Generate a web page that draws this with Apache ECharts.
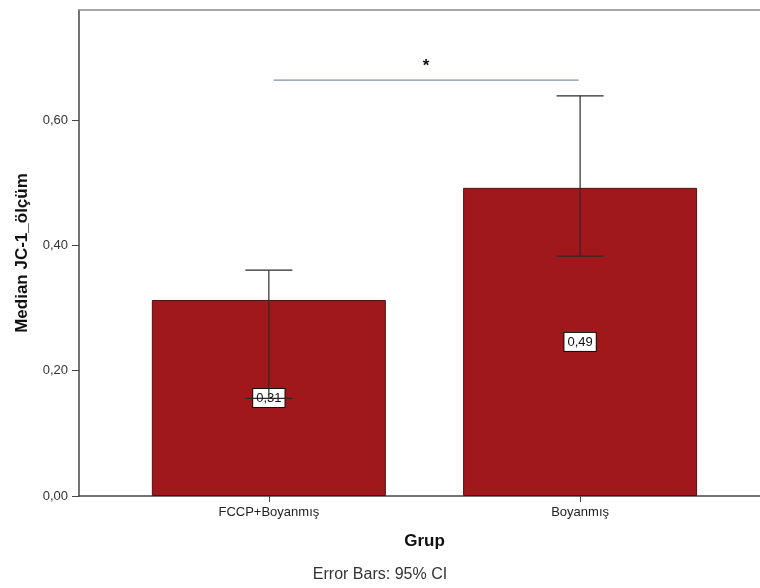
<!DOCTYPE html>
<html>
<head>
<meta charset="utf-8">
<script src="https://cdn.jsdelivr.net/npm/echarts@6/dist/echarts.min.js"></script>
<style>
  html, body { margin: 0; padding: 0; background: #fff; }
  #chart { width: 760px; height: 588px; }
</style>
</head>
<body>
<div id="chart"></div>
<script>
// Groups and their median JC-1 values with 95% confidence limits
const categories = ['FCCP+Boyanmış', 'Boyanmış'];
const medians = [0.313, 0.492];
const ciLower = [0.156, 0.383];
const ciUpper = [0.3605, 0.639];
const yTicks = [0, 0.2, 0.4, 0.6];
// significance bracket between the two groups
const bracketLevel = 0.664;
const bracketSpan = [0.015, 0.995];
const bracketMark = '*';

const fontFamily = '"Liberation Sans", Arial, sans-serif';
const fmt = v => v.toFixed(2).replace('.', ',');

const chart = echarts.init(document.getElementById('chart'), null, { renderer: 'canvas' });

const barData = medians.map((v, i) => [i, v]);
const errData = medians.map((v, i) => [i, ciLower[i], ciUpper[i]]);

// the plot frame runs off the right edge, so the x range stops short of the
// symmetric extent and only the top, left and bottom edges are drawn
const xMin = -0.61;
const xMax = 1.578;

chart.setOption({
  animation: false,
  backgroundColor: '#ffffff',
  textStyle: { fontFamily },
  grid: {
    left: 79, top: 10, right: 0, bottom: 92,
    show: false,
    containLabel: false
  },
  xAxis: [
    {
      type: 'value',
      min: xMin, max: xMax,
      name: 'Grup',
      nameLocation: 'middle',
      nameGap: 37,
      nameTextStyle: { fontSize: 17, fontWeight: 'bold', color: '#111', fontFamily, padding: [0, 0, 0, 10] },
      axisLine: { show: true, onZero: false, lineStyle: { color: '#444', width: 1.5 } },
      axisTick: { show: true, customValues: [0, 1], length: 6, lineStyle: { color: '#444' } },
      axisLabel: {
        customValues: [0, 1],
        formatter: v => categories[Math.round(v)] || '',
        fontSize: 13, color: '#222', margin: 10, fontFamily
      },
      splitLine: { show: false }
    },
    {
      type: 'value',
      position: 'top',
      min: xMin, max: xMax,
      axisLine: { show: true, onZero: false, lineStyle: { color: '#8a8a8a', width: 1.5 } },
      axisTick: { show: false },
      axisLabel: { show: false },
      splitLine: { show: false }
    }
  ],
  yAxis: {
    type: 'value',
    min: 0, max: 0.776,
    name: 'Median JC-1_ölçüm',
    nameLocation: 'middle',
    nameGap: 48,
    nameTextStyle: { fontSize: 17, fontWeight: 'bold', color: '#111', fontFamily },
    axisLine: { show: true, onZero: false, lineStyle: { color: '#444', width: 1.5 } },
    axisTick: { show: true, customValues: yTicks, length: 7, lineStyle: { color: '#444' } },
    axisLabel: {
      customValues: yTicks,
      formatter: v => fmt(v),
      fontSize: 13, color: '#333', margin: 11, fontFamily
    },
    splitLine: { show: false }
  },
  series: [
    {
      type: 'bar',
      data: barData,
      barWidth: 234,
      z: 2,
      itemStyle: { color: '#a0171c', borderColor: '#4a1414', borderWidth: 1 },
      label: {
        show: true,
        position: 'inside',
        formatter: p => fmt(p.value[1]),
        fontSize: 13, color: '#111', fontFamily,
        backgroundColor: '#ffffff',
        borderColor: '#111', borderWidth: 1,
        padding: [3, 3, 2, 3]
      }
    },
    {
      type: 'custom',
      z: 5,
      data: errData,
      renderItem: (params, api) => {
        const x = api.value(0);
        const lo = api.coord([x, api.value(1)]);
        const hi = api.coord([x, api.value(2)]);
        const half = 23.5;
        const style = { stroke: '#2a2a2a', lineWidth: 1.2 };
        return {
          type: 'group',
          children: [
            { type: 'line', shape: { x1: lo[0], y1: lo[1], x2: hi[0], y2: hi[1] }, style },
            { type: 'line', shape: { x1: hi[0] - half, y1: hi[1], x2: hi[0] + half, y2: hi[1] }, style },
            { type: 'line', shape: { x1: lo[0] - half, y1: lo[1], x2: lo[0] + half, y2: lo[1] }, style }
          ]
        };
      }
    },
    {
      type: 'line',
      z: 4,
      symbol: 'none',
      silent: true,
      data: bracketSpan.map(x => [x, bracketLevel]),
      lineStyle: { color: '#7f90a8', width: 1.2 },
      markPoint: {
        symbol: 'circle', symbolSize: 0,
        data: [{ coord: [(bracketSpan[0] + bracketSpan[1]) / 2, bracketLevel], value: bracketMark }],
        label: {
          show: true, position: 'top', distance: 5,
          formatter: bracketMark, fontSize: 17, fontWeight: 'bold', color: '#111', fontFamily
        }
      }
    }
  ],
  graphic: [
    {
      type: 'text',
      left: 'center',
      top: 567,
      style: { text: 'Error Bars: 95% CI', fontSize: 16, fill: '#333', fontFamily }
    }
  ]
});
</script>
</body>
</html>
